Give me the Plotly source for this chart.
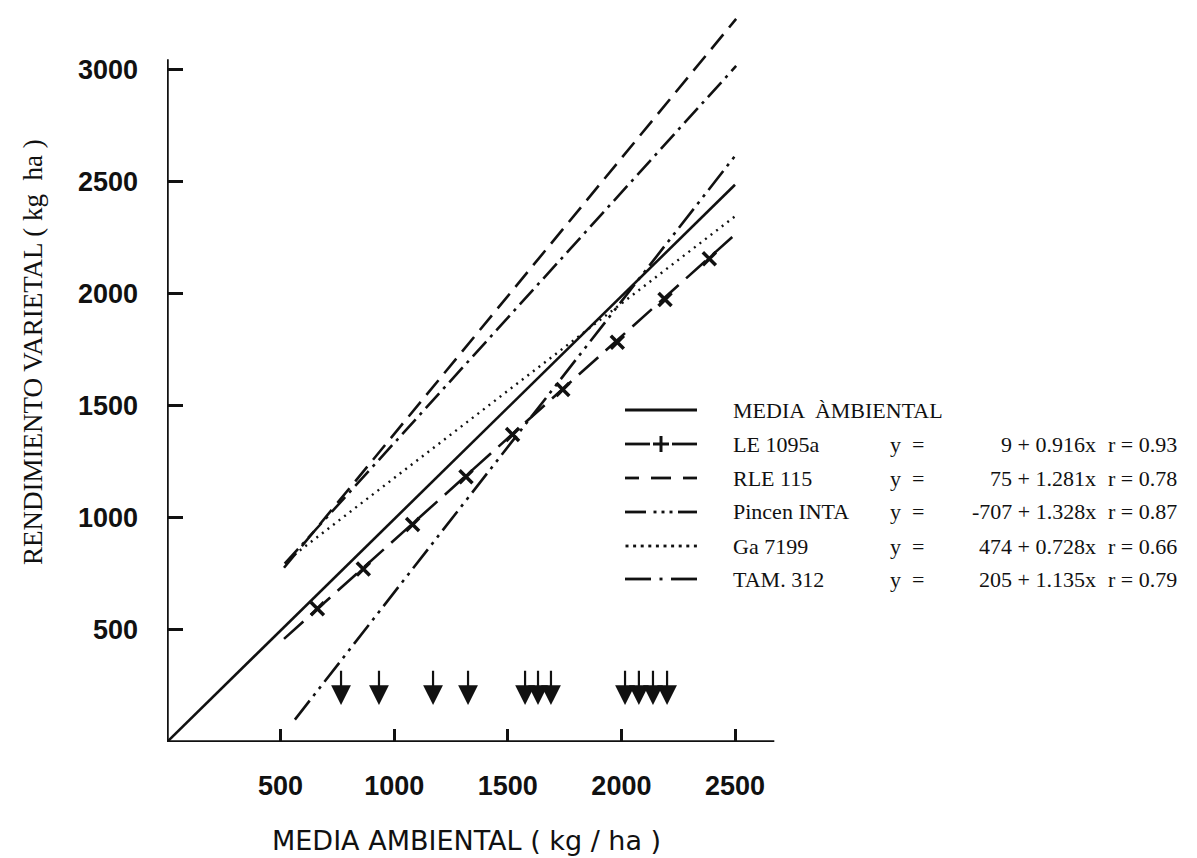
import plotly.graph_objects as go

# ---------------- data ----------------
media_x = [0, 2500]
media_y = [0, 2485]

le_x = [515, 2500]
le_y = [460, 2263]
le_mark_x = [662, 864, 1081, 1316, 1521, 1742, 1982, 2192, 2387]
le_mark_y = [594, 772, 970, 1183, 1371, 1572, 1783, 1973, 2155]

rle_x = [515, 2505]
rle_y = [777, 3225]

pincen_x = [563, 2505]
pincen_y = [100, 2620]

ga_x = [560, 2505]
ga_y = [835, 2348]

tam_x = [518, 2505]
tam_y = [795, 3015]

arrow_x = [766, 933, 1171, 1325, 1576, 1633, 1690, 2016, 2077, 2139, 2201]

x_ticks = [500, 1000, 1500, 2000, 2500]
y_ticks = [500, 1000, 1500, 2000, 2500, 3000]

legend_names = ["MEDIA  ÀMBIENTAL", "LE 1095a", "RLE 115", "Pincen INTA", "Ga 7199", "TAM. 312"]
legend_eq = ["", "9 + 0.916x", "75 + 1.281x", "-707 + 1.328x", "474 + 0.728x", "205 + 1.135x"]
legend_r = ["", "r = 0.93", "r = 0.78", "r = 0.87", "r = 0.66", "r = 0.79"]

# ---------------- layout constants ----------------
OFF = 8                       # page body margin of the html page
W, H = 1197 - OFF, 858 - OFF
ML = 167 - OFF
AXIS_Y = 742 - OFF
MB = H - AXIS_Y
X_MAX = (W - ML) / 0.2272
Y_MAX = AXIS_Y / 0.22423

BLACK = "#111111"
SERIF = "Liberation Serif"
SANS = "Liberation Sans"

dashes = {
    "media": "solid",
    "le": "26px,10px",
    "rle": "19px,9px",
    "pincen": "24px,6px,3px,6px,3px,6px",
    "ga": "2px,5px",
    "tam": "20px,6px,3px,6px",
}

fig = go.Figure()

def add_line(xs, ys, key, width=2.6):
    fig.add_trace(go.Scatter(x=xs, y=ys, mode="lines",
                             line=dict(color=BLACK, width=width, dash=dashes[key]),
                             hoverinfo="skip", showlegend=False, cliponaxis=False))

add_line(media_x, media_y, "media")
add_line(le_x, le_y, "le")
add_line(rle_x, rle_y, "rle")
add_line(pincen_x, pincen_y, "pincen")
add_line(ga_x, ga_y, "ga", width=2.4)
add_line(tam_x, tam_y, "tam")

fig.add_trace(go.Scatter(x=le_mark_x, y=le_mark_y, mode="markers",
                         marker=dict(symbol="x-thin", size=13, line=dict(color=BLACK, width=3.5)),
                         hoverinfo="skip", showlegend=False))

shapes = []
# axes lines
shapes.append(dict(type="line", xref="x", yref="y", x0=0, y0=0, x1=0, y1=3045,
                   line=dict(color=BLACK, width=3.5)))
shapes.append(dict(type="line", xref="x", yref="y", x0=0, y0=0, x1=2673, y1=0,
                   line=dict(color=BLACK, width=3.5)))

annotations = []
# arrows
for ax_ in arrow_x:
    annotations.append(dict(x=ax_, y=165, xref="x", yref="y", ax=ax_, ay=325,
                            axref="x", ayref="y", text="", showarrow=True,
                            arrowhead=2, arrowsize=1.8, arrowwidth=2.2,
                            arrowcolor=BLACK, standoff=0))

# ---------------- custom legend (screen pixel helpers) ----------------
def px_x(px):
    return (px - OFF - ML) / (W - ML)

def px_y(py):
    return (AXIS_Y - (py - OFF)) / AXIS_Y

def seg(x0, x1, py, width=2.8):
    shapes.append(dict(type="line", xref="paper", yref="paper",
                       x0=px_x(x0), x1=px_x(x1), y0=px_y(py), y1=px_y(py),
                       line=dict(color=BLACK, width=width)))

def dot(xc, py):
    seg(xc - 1.5, xc + 1.5, py, width=2.8)

row_y = [410, 444, 478, 512, 546, 579]
L0, L1 = 625, 697

# MEDIA AMBIENTAL: solid
seg(L0, L1, row_y[0])
# LE 1095a: — + —
seg(L0, 650, row_y[1]); seg(672, L1, row_y[1]); seg(653, 669, row_y[1], width=3)
shapes.append(dict(type="line", xref="paper", yref="paper",
                   x0=px_x(661), x1=px_x(661), y0=px_y(row_y[1] - 8), y1=px_y(row_y[1] + 8),
                   line=dict(color=BLACK, width=3)))
# RLE 115: — — —
seg(L0, 639, row_y[2]); seg(651, 671, row_y[2]); seg(683, L1, row_y[2])
# Pincen INTA: — · · · —
seg(L0, 646, row_y[3]); dot(655, row_y[3]); dot(663, row_y[3]); dot(671, row_y[3]); seg(678, L1, row_y[3])
# Ga 7199: dotted
for k in range(10):
    dot(L0 + 2 + k * 7.6, row_y[4])
# TAM. 312: — · —
seg(L0, 651, row_y[5]); dot(661, row_y[5]); seg(671, L1, row_y[5])

font_leg = dict(family=SERIF, size=22, color=BLACK)
for i in range(len(legend_names)):
    yy = px_y(row_y[i])
    annotations.append(dict(x=px_x(731), y=yy, xref="paper", yref="paper",
                            text=legend_names[i], showarrow=False, xanchor="left",
                            yanchor="middle", font=font_leg))
    if legend_eq[i]:
        annotations.append(dict(x=px_x(888), y=yy, xref="paper", yref="paper",
                                text="y  =", showarrow=False, xanchor="left",
                                yanchor="middle", font=font_leg))
        annotations.append(dict(x=px_x(1098), y=yy, xref="paper", yref="paper",
                                text=legend_eq[i], showarrow=False, xanchor="right",
                                yanchor="middle", font=font_leg))
        annotations.append(dict(x=px_x(1106), y=yy, xref="paper", yref="paper",
                                text=legend_r[i], showarrow=False, xanchor="left",
                                yanchor="middle", font=font_leg))

# axis titles
annotations.append(dict(x=px_x(466), y=px_y(840), xref="paper", yref="paper",
                        text="MEDIA AMBIENTAL ( kg / ha )", showarrow=False,
                        xanchor="center", yanchor="middle",
                        font=dict(family="DejaVu Sans", size=27, color=BLACK)))
annotations.append(dict(x=px_x(33), y=px_y(352), xref="paper", yref="paper",
                        text="RENDIMIENTO VARIETAL ( kg  ha )", showarrow=False,
                        textangle=-90, xanchor="center", yanchor="middle",
                        font=dict(family=SERIF, size=27, color=BLACK)))

fig.update_layout(
    width=W, height=H,
    margin=dict(l=ML, r=0, t=0, b=MB),
    paper_bgcolor="white", plot_bgcolor="white",
    shapes=shapes, annotations=annotations,
    xaxis=dict(range=[0, X_MAX], showgrid=False, zeroline=False, showline=False,
               tickvals=x_ticks, ticktext=[f"<b>{v}</b>" for v in x_ticks],
               ticks="inside", ticklen=13, tickwidth=2.5, tickcolor=BLACK,
               ticklabelstandoff=25,
               tickfont=dict(family=SANS, size=27, color=BLACK)),
    yaxis=dict(range=[0, Y_MAX], showgrid=False, zeroline=False, showline=False,
               tickvals=y_ticks, ticktext=[f"<b>{v}</b>" for v in y_ticks],
               ticks="inside", ticklen=16, tickwidth=2.5, tickcolor=BLACK,
               ticklabelstandoff=28,
               tickfont=dict(family=SANS, size=27, color=BLACK)),
)

fig.write_html("out.html")
